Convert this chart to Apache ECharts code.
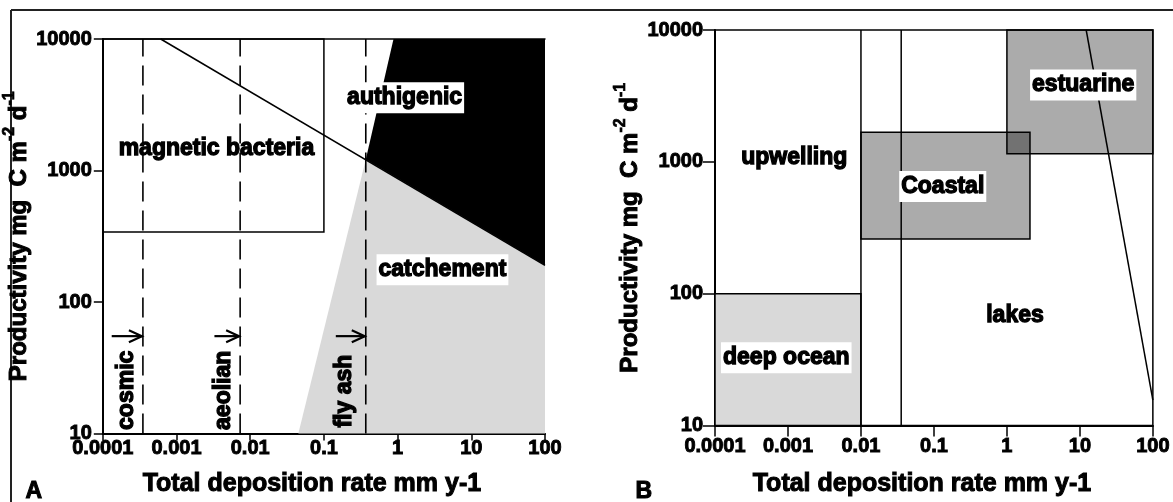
<!DOCTYPE html>
<html>
<head>
<meta charset="utf-8">
<script src="https://cdn.jsdelivr.net/npm/echarts@6/dist/echarts.min.js"></script>
<style>
html, body { margin: 0; padding: 0; background: #fff; }
#chart { width: 1173px; height: 502px; }
</style>
</head>
<body>
<div id="chart"></div>
<script>
// ---- tick labels ----
const xTickLabels = ['0.0001', '0.001', '0.01', '0.1', '1', '10', '100'];
const yTickLabels = ['10', '100', '1000', '10000'];

// ---- panel A: sources of magnetic minerals ----
const magBacteriaBox = [[0.0001, 340], [0.1, 10000]];
const sourceLines = [0.00035, 0.0073, 0.37];              // cosmic, aeolian, fly ash limits
const sourceArrows = [[0.000132, 0.00035], [0.00327, 0.0073], [0.145, 0.37]];
const arrowLevel = 55;
const trendLine = [[0.00061, 10000], [100, 190]];
const authigenicArea = [[0.37, 1210], [0.88, 10000], [100, 10000], [100, 190]];
const catchmentArea = [[0.045, 10], [0.37, 1210], [100, 190], [100, 10]];
const labelsA = [
  { name: 'magnetic bacteria', value: [0.00348, 1460] }
];
const boxedLabelsA = [
  { name: 'authigenic', value: [1.245, 3570] },
  { name: 'catchement', value: [4.06, 176] }
];
const sourceLabelsA = [
  { name: 'cosmic', value: [0.000211, 21.3] },
  { name: 'aeolian', value: [0.00431, 21.3] },
  { name: 'fly ash', value: [0.192, 21.0] }
];

// ---- panel B: depositional environments ----
const deepOceanBox = [[0.0001, 10], [0.01, 100]];
const coastalBox = [[0.01, 260], [2.07, 1680]];
const estuarineBox = [[1, 1150], [100, 10000]];
const boundaryLinesB = [0.01, 0.0356];
const lakeLine = [[12.2, 10000], [100, 15.6]];
const labelsB = [
  { name: 'upwelling', value: [0.00122, 1072] },
  { name: 'lakes', value: [1.29, 68.6] }
];
const boxedLabelsB = [
  { name: 'Coastal', value: [0.132, 650] },
  { name: 'estuarine', value: [11.1, 3820] },
  { name: 'deep ocean', value: [0.000948, 32.7] }
];

// ---- styling helpers ----
const FONT = '"Liberation Sans", Arial, Helvetica, sans-serif';
const BLACK = '#000';

function rectPoints(box) {
  const [[x0, y0], [x1, y1]] = box;
  return [[x0, y0], [x1, y0], [x1, y1], [x0, y1]];
}

function polygonSeries(gi, pts, style, z) {
  return {
    type: 'custom', xAxisIndex: gi, yAxisIndex: gi, silent: true, z: z,
    data: [pts[0]],
    renderItem: function (params, api) {
      return { type: 'polygon', shape: { points: pts.map(p => api.coord(p)) }, style: style };
    }
  };
}

function segmentSeries(gi, segs, style, z) {
  return {
    type: 'custom', xAxisIndex: gi, yAxisIndex: gi, silent: true, z: z,
    encode: { x: [0, 2], y: [1, 3] },
    data: segs,
    renderItem: function (params, api) {
      const a = api.coord([api.value(0), api.value(1)]);
      const b = api.coord([api.value(2), api.value(3)]);
      return { type: 'line', shape: { x1: a[0], y1: a[1], x2: b[0], y2: b[1] }, style: style };
    }
  };
}

function arrowSeries(gi, arrows, level, z) {
  return {
    type: 'custom', xAxisIndex: gi, yAxisIndex: gi, silent: true, z: z,
    encode: { x: [0, 1], y: 2 },
    data: arrows.map(a => [a[0], a[1], level]),
    renderItem: function (params, api) {
      const a = api.coord([api.value(0), api.value(2)]);
      const b = api.coord([api.value(1), api.value(2)]);
      const st = { stroke: BLACK, lineWidth: 2.2, fill: null };
      return {
        type: 'group',
        children: [
          { type: 'line', shape: { x1: a[0], y1: a[1], x2: b[0] - 1, y2: b[1] }, style: st },
          { type: 'polyline', shape: { points: [[b[0] - 14, b[1] - 6], [b[0] - 1, b[1]], [b[0] - 14, b[1] + 6]] }, style: st }
        ]
      };
    }
  };
}

function labelSeries(gi, data, extra, z) {
  return {
    type: 'scatter', xAxisIndex: gi, yAxisIndex: gi, silent: true, z: z,
    symbolSize: 0,
    itemStyle: { opacity: 1 },
    data: data,
    label: Object.assign({
      show: true, position: 'inside', formatter: '{b}', opacity: 1,
      color: BLACK, fontFamily: FONT, fontWeight: 'bold', fontSize: 23,
      textBorderColor: BLACK, textBorderWidth: 1.3
    }, extra || {})
  };
}

function xAxisFor(gi, margin, tickLen, nameGap) {
  return {
    type: 'log', logBase: 10, gridIndex: gi, min: 0.0001, max: 100, splitNumber: 6,
    axisLine: { lineStyle: { color: BLACK, width: 2 } },
    axisTick: { length: tickLen, lineStyle: { color: BLACK, width: 1.5 } },
    minorTick: { show: false }, splitLine: { show: false },
    axisLabel: {
      showMinLabel: true, showMaxLabel: true, margin: margin,
      formatter: v => xTickLabels[Math.round(Math.log10(v)) + 4],
      color: BLACK, fontFamily: FONT, fontWeight: 'bold', fontSize: 20,
      textBorderColor: BLACK, textBorderWidth: 0.9
    },
    name: 'Total deposition rate mm y-1', nameLocation: 'middle', nameGap: nameGap,
    nameTextStyle: {
      color: BLACK, fontFamily: FONT, fontWeight: 'bold', fontSize: 25,
      textBorderColor: BLACK, textBorderWidth: 1, padding: [0, 24, 0, 0]
    }
  };
}

function yAxisFor(gi, margin, tickLen) {
  return {
    type: 'log', logBase: 10, gridIndex: gi, min: 10, max: 10000, splitNumber: 3,
    axisLine: { lineStyle: { color: BLACK, width: 2 } },
    axisTick: { length: tickLen, lineStyle: { color: BLACK, width: 1.5 } },
    minorTick: { show: false }, splitLine: { show: false },
    axisLabel: {
      showMinLabel: true, showMaxLabel: true, margin: margin,
      formatter: v => yTickLabels[Math.round(Math.log10(v)) - 1],
      color: BLACK, fontFamily: FONT, fontWeight: 'bold', fontSize: 20,
      textBorderColor: BLACK, textBorderWidth: 0.9
    },
    name: '{a|Productivity mg  C m}{s|-2}{a| d}{s|-1}',
    nameLocation: 'middle', nameRotate: 90, nameGap: 57,
    nameTextStyle: {
      color: BLACK, fontFamily: FONT, fontWeight: 'bold',
      rich: {
        a: { fontSize: 24, fontFamily: FONT, fontWeight: 'bold', color: BLACK, lineHeight: 30, verticalAlign: 'bottom', textBorderColor: BLACK, textBorderWidth: 1 },
        s: { fontSize: 16, fontFamily: FONT, fontWeight: 'bold', color: BLACK, lineHeight: 17, verticalAlign: 'top', textBorderColor: BLACK, textBorderWidth: 0.7 }
      }
    }
  };
}

const boxedLabelStyle = { backgroundColor: '#fff', padding: [5, 2, 3, 2] };
const thin = { stroke: BLACK, lineWidth: 1.5, fill: null };

const option = {
  animation: false,
  backgroundColor: '#fff',
  grid: [
    { left: 101, top: 39, width: 444, height: 402 },
    { left: 715, top: 30, width: 442, height: 402, show: true, borderColor: BLACK, borderWidth: 1.5, backgroundColor: 'transparent' }
  ],
  xAxis: [
    xAxisFor(0, 5, 7, 38),
    xAxisFor(1, 11, 11, 46),
    { type: 'log', logBase: 10, gridIndex: 0, min: 0.0001, max: 100, position: 'top',
      axisLine: { lineStyle: { color: BLACK, width: 1.5 } },
      axisTick: { show: false }, axisLabel: { show: false }, splitLine: { show: false } }
  ],
  yAxis: [
    yAxisFor(0, 11, 9),
    yAxisFor(1, 12, 12)
  ],
  graphic: [
    { type: 'line', shape: { x1: 11, y1: 10, x2: 1173, y2: 10 }, style: { stroke: '#222', lineWidth: 2 } },
    { type: 'line', shape: { x1: 11, y1: 10, x2: 11, y2: 502 }, style: { stroke: '#222', lineWidth: 2 } },
    { type: 'text', left: 25, top: 480, style: { text: 'A', font: 'bold 23px ' + FONT, fill: BLACK, stroke: BLACK, lineWidth: 1 } },
    { type: 'text', left: 635, top: 480, style: { text: 'B', font: 'bold 23px ' + FONT, fill: BLACK, stroke: BLACK, lineWidth: 1 } }
  ],
  series: [
    // panel A
    polygonSeries(0, catchmentArea, { fill: '#d9d9d9' }, 1),
    polygonSeries(0, authigenicArea, { fill: '#000' }, 2),
    polygonSeries(0, rectPoints(magBacteriaBox), thin, 3),
    segmentSeries(0, [[trendLine[0][0], trendLine[0][1], trendLine[1][0], trendLine[1][1]]], { stroke: BLACK, lineWidth: 1.5 }, 3),
    segmentSeries(0, sourceLines.map(x => [x, 10, x, 10000]), { stroke: BLACK, lineWidth: 1.6, lineDash: [20, 9] }, 3),
    arrowSeries(0, sourceArrows, arrowLevel, 4),
    labelSeries(0, labelsA, null, 6),
    labelSeries(0, boxedLabelsA, boxedLabelStyle, 6),
    labelSeries(0, sourceLabelsA, { rotate: 90 }, 6),

    // panel B
    polygonSeries(1, rectPoints(deepOceanBox), { fill: '#d9d9d9', stroke: BLACK, lineWidth: 1.5 }, 1),
    polygonSeries(1, rectPoints(coastalBox), { fill: 'rgba(0,0,0,0.33)', stroke: BLACK, lineWidth: 1.5 }, 2),
    polygonSeries(1, rectPoints(estuarineBox), { fill: 'rgba(0,0,0,0.33)', stroke: BLACK, lineWidth: 1.5 }, 2),
    segmentSeries(1, boundaryLinesB.map(x => [x, 10, x, 10000]), { stroke: BLACK, lineWidth: 1.5 }, 3),
    segmentSeries(1, [[lakeLine[0][0], lakeLine[0][1], lakeLine[1][0], lakeLine[1][1]]], { stroke: BLACK, lineWidth: 1.5 }, 3),
    labelSeries(1, labelsB, null, 6),
    labelSeries(1, boxedLabelsB, boxedLabelStyle, 6)
  ]
};

const chart = echarts.init(document.getElementById('chart'), null, { renderer: 'canvas' });
chart.setOption(option);
</script>
</body>
</html>
